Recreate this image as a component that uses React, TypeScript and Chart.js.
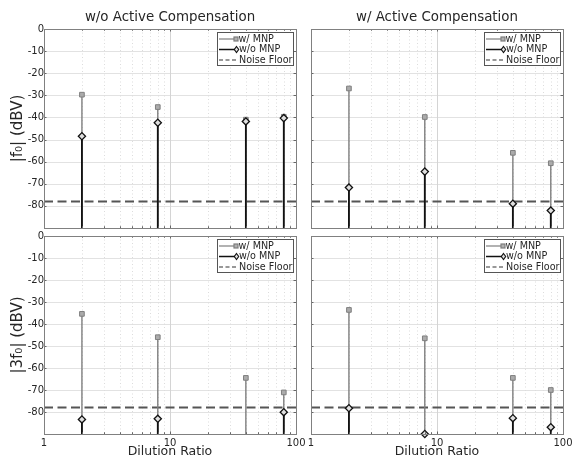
import React, { useEffect, useRef } from "react";
import { Chart, registerables } from "chart.js";

Chart.register(...registerables);

// ---------- data ----------
const dilutionRatios = [2, 8, 40, 80];

// |f0| without active compensation
const f0NoCompWithMnp = [-29.7, -35.3, -41.0, -39.7];
const f0NoCompWithoutMnp = [-48.5, -42.4, -41.8, -40.3];
// |f0| with active compensation
const f0CompWithMnp = [-26.9, -39.8, -56.0, -60.7];
const f0CompWithoutMnp = [-71.7, -64.5, -79.0, -82.1];
// |3f0| without active compensation
const h3NoCompWithMnp = [-35.4, -46.0, -64.5, -71.1];
const h3NoCompWithoutMnp: (number | null)[] = [-83.4, -83.1, null, -80.1];
// |3f0| with active compensation
const h3CompWithMnp = [-33.6, -46.5, -64.5, -70.0];
const h3CompWithoutMnp = [-78.3, -90.0, -82.8, -86.9];

const noiseFloorDbv = -78;
const yTickValues = [0, -10, -20, -30, -40, -50, -60, -70, -80];
const xTickLabels = [1, 10, 100];
const xMinorTicks = [2, 3, 4, 5, 6, 7, 8, 9, 20, 30, 40, 50, 60, 70, 80, 90];
const yMin = -90;
const yMax = 0;
const xMin = 1;
const xMax = 100;

const legendLabels = ["w/ MNP", "w/o MNP", "Noise Floor"];

// ---------- layout / style ----------
const W = 573;
const H = 461;
const FONT = "'DejaVu Sans', sans-serif";
const TEXT = "#262626";
const GREY = "#7f7f7f";
const BLACK = "#111111";
const Y_AXIS_W = 40;
const X_AXIS_H = 20;

type Area = { l: number; t: number; r: number; b: number };
type Panel = {
  area: Area;
  title?: string;
  yLabel?: string;
  xLabel?: string;
  showYTicks: boolean;
  showXTicks: boolean;
  withMnp: (number | null)[];
  withoutMnp: (number | null)[];
};

const panels: Panel[] = [
  {
    area: { l: 44, t: 29, r: 296, b: 228 },
    title: "w/o Active Compensation",
    yLabel: "|f\u2080| (dBV)",
    showYTicks: true,
    showXTicks: false,
    withMnp: f0NoCompWithMnp,
    withoutMnp: f0NoCompWithoutMnp,
  },
  {
    area: { l: 311, t: 29, r: 563, b: 228 },
    title: "w/ Active Compensation",
    showYTicks: false,
    showXTicks: false,
    withMnp: f0CompWithMnp,
    withoutMnp: f0CompWithoutMnp,
  },
  {
    area: { l: 44, t: 236, r: 296, b: 434 },
    yLabel: "|3f\u2080| (dBV)",
    xLabel: "Dilution Ratio",
    showYTicks: true,
    showXTicks: true,
    withMnp: h3NoCompWithMnp,
    withoutMnp: h3NoCompWithoutMnp,
  },
  {
    area: { l: 311, t: 236, r: 563, b: 434 },
    xLabel: "Dilution Ratio",
    showYTicks: false,
    showXTicks: true,
    withMnp: h3CompWithMnp,
    withoutMnp: h3CompWithoutMnp,
  },
];

function stemData(values: (number | null)[]) {
  const pts: { x: number; y: number | null }[] = [];
  values.forEach((v, i) => {
    if (v === null || v === undefined) return;
    pts.push({ x: dilutionRatios[i], y: v });
    pts.push({ x: dilutionRatios[i], y: yMin });
    pts.push({ x: dilutionRatios[i], y: null });
  });
  return pts;
}

function makePanelPlugin(p: Panel) {
  return {
    id: "panelDecor",
    beforeDatasetsDraw(chart: any) {
      const ctx = chart.ctx;
      const { left, right, top, bottom } = chart.chartArea;
      const xs = chart.scales.x;
      const ys = chart.scales.y;
      ctx.save();
      // horizontal major grid
      ctx.strokeStyle = "#e2e2e2";
      ctx.lineWidth = 1;
      yTickValues.forEach((v) => {
        if (v === 0) return;
        const y = Math.round(ys.getPixelForValue(v)) + 0.5;
        ctx.beginPath();
        ctx.moveTo(left, y);
        ctx.lineTo(right, y);
        ctx.stroke();
      });
      // vertical major grid
      ctx.strokeStyle = "#d4d4d4";
      xTickLabels.forEach((v) => {
        if (v === xMin || v === xMax) return;
        const x = Math.round(xs.getPixelForValue(v)) + 0.5;
        ctx.beginPath();
        ctx.moveTo(x, top);
        ctx.lineTo(x, bottom);
        ctx.stroke();
      });
      // vertical minor grid (dotted)
      ctx.strokeStyle = "#dcdcdc";
      ctx.setLineDash([1, 2.5]);
      xMinorTicks.forEach((v) => {
        const x = Math.round(xs.getPixelForValue(v)) + 0.5;
        ctx.beginPath();
        ctx.moveTo(x, top);
        ctx.lineTo(x, bottom);
        ctx.stroke();
      });
      ctx.setLineDash([]);
      ctx.restore();
    },
    afterDraw(chart: any) {
      const ctx = chart.ctx;
      const { left, right, top, bottom } = chart.chartArea;
      const xs = chart.scales.x;
      const ys = chart.scales.y;
      ctx.save();
      // inner ticks
      ctx.strokeStyle = "#666";
      ctx.lineWidth = 1;
      const tl = 2.5;
      [...xTickLabels, ...xMinorTicks].forEach((v) => {
        const x = Math.round(xs.getPixelForValue(v)) + 0.5;
        const len = xTickLabels.includes(v) ? tl : tl * 0.7;
        ctx.beginPath();
        ctx.moveTo(x, bottom);
        ctx.lineTo(x, bottom - len);
        ctx.moveTo(x, top);
        ctx.lineTo(x, top + len);
        ctx.stroke();
      });
      yTickValues.forEach((v) => {
        const y = Math.round(ys.getPixelForValue(v)) + 0.5;
        ctx.beginPath();
        ctx.moveTo(left, y);
        ctx.lineTo(left + tl, y);
        ctx.moveTo(right, y);
        ctx.lineTo(right - tl, y);
        ctx.stroke();
      });
      // box
      ctx.strokeStyle = "#808080";
      ctx.strokeRect(left + 0.5, top + 0.5, right - left, bottom - top);

      // legend
      const bx = Math.round(right - 79);
      const by = Math.round(top + 3);
      const bw = 76;
      const bh = 33;
      ctx.fillStyle = "#ffffff";
      ctx.fillRect(bx, by, bw, bh);
      ctx.strokeStyle = "#555";
      ctx.lineWidth = 1;
      ctx.strokeRect(bx + 0.5, by + 0.5, bw, bh);
      const rows = [by + 7, by + 17.5, by + 28];
      const lx0 = bx + 2;
      // w/ MNP
      ctx.strokeStyle = GREY;
      ctx.lineWidth = 1.2;
      ctx.beginPath();
      ctx.moveTo(lx0, rows[0]);
      ctx.lineTo(lx0 + 16, rows[0]);
      ctx.stroke();
      ctx.fillStyle = "#b0b0b0";
      ctx.fillRect(lx0 + 15, rows[0] - 2, 4, 4);
      ctx.strokeRect(lx0 + 15, rows[0] - 2, 4, 4);
      // w/o MNP
      ctx.strokeStyle = BLACK;
      ctx.lineWidth = 1.5;
      ctx.beginPath();
      ctx.moveTo(lx0, rows[1]);
      ctx.lineTo(lx0 + 16, rows[1]);
      ctx.stroke();
      ctx.lineWidth = 1.1;
      ctx.fillStyle = "#e0e0e0";
      ctx.beginPath();
      const dx = lx0 + 17.5;
      ctx.moveTo(dx, rows[1] - 3);
      ctx.lineTo(dx + 2.2, rows[1]);
      ctx.lineTo(dx, rows[1] + 3);
      ctx.lineTo(dx - 2.2, rows[1]);
      ctx.closePath();
      ctx.fill();
      ctx.stroke();
      // noise floor
      ctx.strokeStyle = "#333";
      ctx.lineWidth = 1.2;
      ctx.setLineDash([4, 2.5]);
      ctx.beginPath();
      ctx.moveTo(lx0, rows[2]);
      ctx.lineTo(lx0 + 19, rows[2]);
      ctx.stroke();
      ctx.setLineDash([]);
      ctx.fillStyle = TEXT;
      ctx.font = `9.6px ${FONT}`;
      ctx.textBaseline = "middle";
      ctx.textAlign = "left";
      ctx.fillText(legendLabels[0], lx0 + 19.5, rows[0]);
      ctx.fillText(legendLabels[1], lx0 + 20, rows[1]);
      ctx.fillText(legendLabels[2], lx0 + 20, rows[2]);

      // titles / labels
      ctx.fillStyle = TEXT;
      ctx.textAlign = "center";
      if (p.title) {
        ctx.font = `13.4px ${FONT}`;
        ctx.textBaseline = "middle";
        ctx.fillText(p.title, (left + right) / 2, top - 11);
      }
      if (p.xLabel) {
        ctx.font = `12.5px ${FONT}`;
        ctx.textBaseline = "middle";
        ctx.fillText(p.xLabel, (left + right) / 2, bottom + 17.5);
      }
      if (p.yLabel) {
        ctx.save();
        ctx.font = `15px ${FONT}`;
        ctx.translate(left - 26, (top + bottom) / 2);
        ctx.rotate(-Math.PI / 2);
        ctx.textBaseline = "middle";
        ctx.fillText(p.yLabel, 0, 0);
        ctx.restore();
      }
      ctx.restore();
    },
  };
}

function PanelChart({ panel }: { panel: Panel }) {
  const ref = useRef<HTMLCanvasElement | null>(null);
  useEffect(() => {
    if (!ref.current) return;
    const a = panel.area;
    const pointR = (r: number) => (c: any) => (c.dataIndex % 3 === 0 ? r : 0);
    const chart = new Chart(ref.current, {
      type: "line",
      data: {
        datasets: [
          {
            label: legendLabels[1],
            data: stemData(panel.withoutMnp) as any,
            borderColor: BLACK,
            borderWidth: 1.8,
            pointStyle: "rectRot",
            pointRadius: pointR(3.6) as any,
            pointBackgroundColor: "#e0e0e0",
            pointBorderColor: BLACK,
            pointBorderWidth: 1.3,
            spanGaps: false,
            clip: false as any,
            order: 0,
          },
          {
            label: legendLabels[0],
            data: stemData(panel.withMnp) as any,
            borderColor: GREY,
            borderWidth: 1.4,
            pointStyle: "rect",
            pointRadius: pointR(3.3) as any,
            pointBackgroundColor: "#ababab",
            pointBorderColor: GREY,
            pointBorderWidth: 1,
            spanGaps: false,
            clip: false as any,
            order: 1,
          },
          {
            label: legendLabels[2],
            data: [
              { x: xMin, y: noiseFloorDbv },
              { x: xMax, y: noiseFloorDbv },
            ] as any,
            borderColor: "#555555",
            borderWidth: 2,
            borderDash: [9, 4.5],
            pointRadius: 0,
            order: 2,
          },
        ],
      },
      options: {
        responsive: false,
        animation: false,
        events: [],
        layout: {
          autoPadding: false,
          padding: {
            left: a.l - Y_AXIS_W,
            top: a.t,
            right: W - a.r,
            bottom: H - a.b - X_AXIS_H,
          },
        } as any,
        plugins: {
          legend: { display: false },
          tooltip: { enabled: false },
          title: { display: false },
        },
        scales: {
          x: {
            type: "logarithmic",
            min: xMin,
            max: xMax,
            grid: { display: false, drawTicks: false },
            border: { display: false },
            afterFit: (s: any) => {
              s.height = X_AXIS_H;
              s.paddingLeft = 0;
              s.paddingRight = 0;
              s.paddingTop = 0;
              s.paddingBottom = 0;
            },
            ticks: {
              display: panel.showXTicks,
              autoSkip: false,
              maxRotation: 0,
              minRotation: 0,
              padding: 3,
              color: TEXT,
              font: { family: FONT, size: 10 },
              callback: (v: any) => (xTickLabels.includes(Number(v)) ? String(Number(v)) : ""),
            },
          },
          y: {
            type: "linear",
            min: yMin,
            max: yMax,
            grid: { display: false, drawTicks: false },
            border: { display: false },
            afterFit: (s: any) => {
              s.width = Y_AXIS_W;
              s.paddingLeft = 0;
              s.paddingRight = 0;
              s.paddingTop = 0;
              s.paddingBottom = 0;
            },
            ticks: {
              display: panel.showYTicks,
              stepSize: 10,
              padding: 0,
              color: TEXT,
              font: { family: FONT, size: 10 },
              callback: (v: any) => (yTickValues.includes(Number(v)) ? String(Number(v)) : ""),
            },
          },
        },
      } as any,
      plugins: [makePanelPlugin(panel)],
    });
    return () => chart.destroy();
  }, [panel]);
  return (
    <canvas
      ref={ref}
      width={W}
      height={H}
      style={{ position: "absolute", left: 0, top: 0, width: W, height: H }}
    />
  );
}

export default function App() {
  return (
    <div
      style={{
        position: "fixed",
        left: 0,
        top: 0,
        width: W,
        height: H,
        background: "#ffffff",
        overflow: "hidden",
      }}
    >
      {panels.map((p, i) => (
        <PanelChart key={i} panel={p} />
      ))}
    </div>
  );
}
